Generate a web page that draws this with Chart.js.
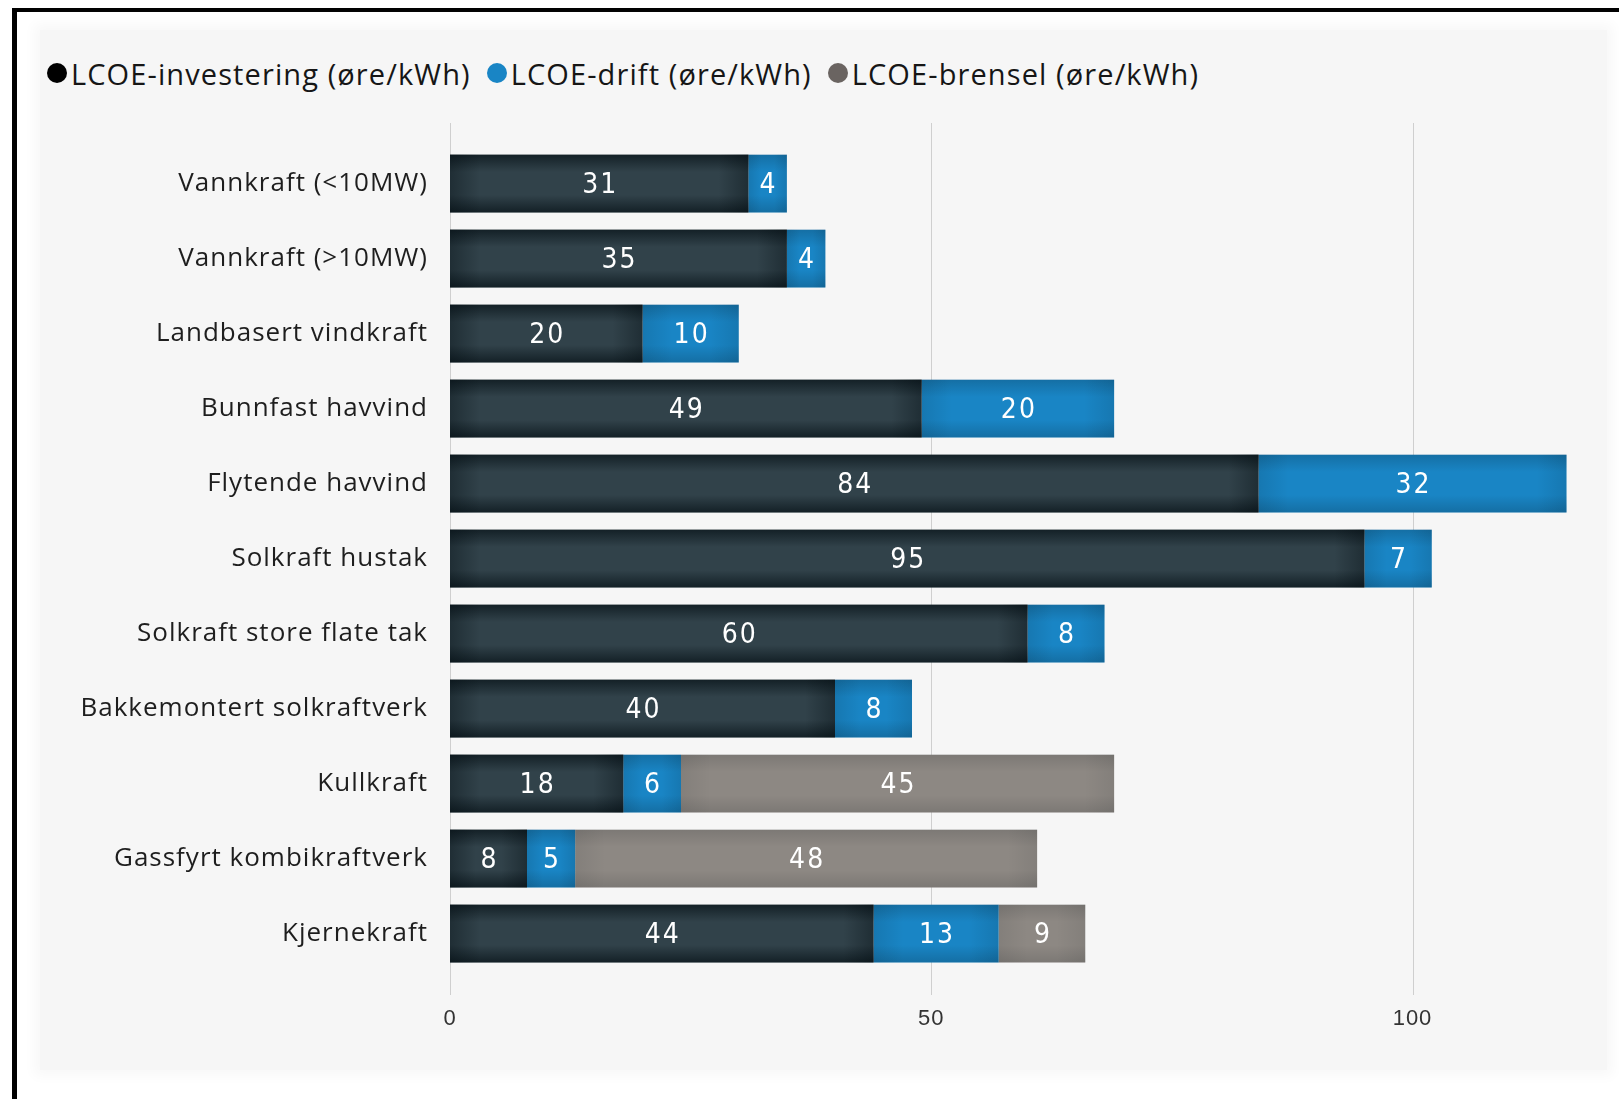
<!DOCTYPE html>
<html>
<head>
  <meta charset="utf-8">
  <title>LCOE per teknologi</title>
  <script src="https://cdn.jsdelivr.net/npm/chart.js@4.4.0/dist/chart.umd.min.js"></script>
  <style>
    html, body {
      margin: 0;
      padding: 0;
      background: #fff;
      width: 1619px;
      height: 1099px;
      overflow: hidden;
    }

    #frame {
      position: absolute;
      left: 12px;
      top: 8px;
      width: 1619px;
      height: 1099px;
      border-left: 5px solid #000;
      border-top: 4px solid #000;
    }

    #panel {
      position: absolute;
      left: 40px;
      top: 30px;
      width: 1567px;
      height: 1040px;
      background: #f6f6f6;
      box-shadow: 0 0 12px 6px #f8f8f8;
    }

    #legend {
      position: absolute;
      left: 47px;
      top: 53px;
      height: 40px;
      display: flex;
      align-items: center;
      font-family: "Open Sans", sans-serif;
      font-size: 29px;
      letter-spacing: 1.1px;
      color: #161616;
    }

    .item {
      display: flex;
      align-items: center;
      margin-right: 16px;
    }

    .dot {
      width: 20px;
      height: 20px;
      border-radius: 50%;
      margin-right: 4px;
    }

    #wrap {
      position: absolute;
      left: 0;
      top: 0;
      width: 1619px;
      height: 1099px;
    }
  </style>
</head>
<body>
  <div id="frame"></div>
  <div id="panel"></div>
  <div id="legend"></div>
  <div id="wrap"><canvas id="lcoe"></canvas></div>

  <script>
    const teknologier = [
      'Vannkraft (<10MW)',
      'Vannkraft (>10MW)',
      'Landbasert vindkraft',
      'Bunnfast havvind',
      'Flytende havvind',
      'Solkraft hustak',
      'Solkraft store flate tak',
      'Bakkemontert solkraftverk',
      'Kullkraft',
      'Gassfyrt kombikraftverk',
      'Kjernekraft'
    ];

    const investering = [31, 35, 20, 49, 84, 95, 60, 40, 18, 8, 44];
    const drift = [4, 4, 10, 20, 32, 7, 8, 8, 6, 5, 13];
    const brensel = [null, null, null, null, null, null, null, null, 45, 48, 9];

    const serieNavn = [
      'LCOE-investering (øre/kWh)',
      'LCOE-drift (øre/kWh)',
      'LCOE-brensel (øre/kWh)'
    ];
    const farger = ['#31424a', '#1985c5', '#8d8883'];
    const prikkFarger = ['#000000', '#1985c5', '#6a6461'];
    const skygge = [0.6, 0.18, 0.12];
    const aksenTicks = [0, 50, 100];

    // legend over diagrammet
    const legend = document.getElementById('legend');
    serieNavn.forEach((navn, i) => {
      const item = document.createElement('div');
      item.className = 'item';
      const dot = document.createElement('span');
      dot.className = 'dot';
      dot.style.background = prikkFarger[i];
      const txt = document.createElement('span');
      txt.textContent = navn;
      item.appendChild(dot);
      item.appendChild(txt);
      legend.appendChild(item);
    });

    // litt sperring på aksetekstene
    const sperring = {
      id: 'sperring',
      beforeDraw(chart) {
        chart.ctx.letterSpacing = '1px';
      },
      afterDraw(chart) {
        chart.ctx.letterSpacing = '0px';
      }
    };

    // loddrette rutenettlinjer som går litt over og under søylene
    const rutenett = {
      id: 'rutenett',
      beforeDatasetsDraw(chart) {
        const { ctx, chartArea, scales } = chart;
        ctx.save();
        ctx.strokeStyle = '#cfcfcf';
        ctx.lineWidth = 1;
        scales.x.ticks.forEach(t => {
          const px = Math.round(scales.x.getPixelForValue(t.value)) + 0.5;
          ctx.beginPath();
          ctx.moveTo(px, chartArea.top - 23);
          ctx.lineTo(px, chartArea.bottom + 24);
          ctx.stroke();
        });
        ctx.restore();
      }
    };

    // skyggelegging av søylene og verdiene inni dem
    const verdier = {
      id: 'verdier',
      afterDatasetsDraw(chart) {
        const { ctx } = chart;
        chart.data.datasets.forEach((ds, di) => {
          const meta = chart.getDatasetMeta(di);
          meta.data.forEach((bar, i) => {
            const v = ds.data[i];
            if (v === null || v === undefined) return;
            const { x, y, base, height } = bar.getProps(['x', 'y', 'base', 'height'], true);
            const left = Math.min(x, base);
            const w = Math.abs(x - base);
            const top = y - height / 2;
            const a = skygge[di];

            ctx.save();
            const g = ctx.createLinearGradient(0, top, 0, top + height);
            g.addColorStop(0, 'rgba(0,10,15,' + a + ')');
            g.addColorStop(0.3, 'rgba(0,10,15,0)');
            g.addColorStop(0.7, 'rgba(0,10,15,0)');
            g.addColorStop(1, 'rgba(0,10,15,' + a + ')');
            ctx.fillStyle = g;
            ctx.fillRect(left, top, w, height);

            const s = Math.min(30, w / 3);
            const gh = ctx.createLinearGradient(left, 0, left + w, 0);
            gh.addColorStop(0, 'rgba(0,10,15,' + a * 0.6 + ')');
            gh.addColorStop(s / w, 'rgba(0,10,15,0)');
            gh.addColorStop(1 - s / w, 'rgba(0,10,15,0)');
            gh.addColorStop(1, 'rgba(0,10,15,' + a * 0.6 + ')');
            ctx.fillStyle = gh;
            ctx.fillRect(left, top, w, height);

            ctx.fillStyle = '#ffffff';
            ctx.font = '28px "Liberation Sans Narrow", "DejaVu Sans Condensed", sans-serif';
            ctx.letterSpacing = '2px';
            ctx.textAlign = 'center';
            ctx.textBaseline = 'middle';
            ctx.fillText(String(v), left + w / 2 + 1, y + 2);
            ctx.restore();
          });
        });
      }
    };

    const ctx = document.getElementById('lcoe').getContext('2d');
    const chart = new Chart(ctx, {
      type: 'bar',
      data: {
        labels: teknologier,
        datasets: [
          { label: serieNavn[0], data: investering, backgroundColor: farger[0] },
          { label: serieNavn[1], data: drift, backgroundColor: farger[1] },
          { label: serieNavn[2], data: brensel, backgroundColor: farger[2] }
        ]
      },
      options: {
        indexAxis: 'y',
        responsive: true,
        maintainAspectRatio: false,
        animation: false,
        layout: {
          padding: { top: 146, right: 14, bottom: 68, left: 0 }
        },
        datasets: {
          bar: {
            barPercentage: 0.77,
            categoryPercentage: 1,
            borderWidth: 0,
            borderSkipped: false
          }
        },
        plugins: {
          legend: { display: false },
          tooltip: { enabled: false }
        },
        scales: {
          x: {
            stacked: true,
            min: 0,
            max: 120,
            afterBuildTicks(axis) {
              axis.ticks = aksenTicks.map(v => ({ value: v }));
            },
            afterFit(axis) {
              axis.height = 60;
            },
            grid: { display: false, drawTicks: false },
            border: { display: false },
            ticks: {
              padding: 35,
              color: '#333333',
              font: { family: '"Liberation Sans Narrow", sans-serif', size: 22 }
            }
          },
          y: {
            stacked: true,
            afterFit(axis) {
              axis.width = 450;
            },
            grid: { display: false, drawTicks: false },
            border: { display: false },
            ticks: {
              padding: 22,
              color: '#1e1e1e',
              font: { family: '"Open Sans", sans-serif', size: 26 }
            }
          }
        }
      },
      plugins: [sperring, rutenett, verdier]
    });
  </script>
</body>
</html>
